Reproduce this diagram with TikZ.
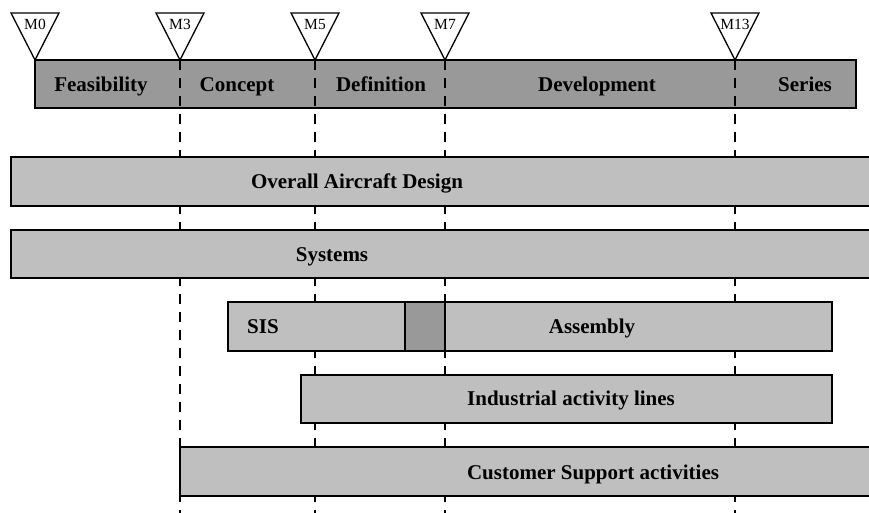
\documentclass[tikz,border=0pt]{standalone}
\usepackage{fontspec}
\setmainfont{Liberation Serif}
\definecolor{phasegray}{gray}{0.6}
\definecolor{bargray}{gray}{0.75}

\begin{document}
\begin{tikzpicture}[x=1pt,y=-1pt,
    milestone/.style={draw=black,line width=1.3pt,fill=white,line join=miter},
    mslabel/.style={inner sep=0pt,anchor=base,font=\fontsize{15.5}{18}\selectfont},
    phase/.style={draw=black,line width=1.5pt,fill=phasegray},
    bar/.style={draw=black,line width=1.5pt,fill=bargray},
    lbl/.style={inner sep=0pt,anchor=base,font=\fontsize{21}{24}\selectfont\bfseries},
    gate/.style={black,line width=1.2pt,dash pattern=on 10pt off 8pt}]
            \clip (0,0) rectangle (869,513);
            % milestone points on the phase bar
            \coordinate (m0) at (35,60);
            \coordinate (m3) at (180,60);
            \coordinate (m5) at (315,60);
            \coordinate (m7) at (445,60);
            \coordinate (m13) at (735,60);
            \coordinate (m3b) at (180,520);
            \coordinate (m5b) at (315,520);
            \coordinate (m7b) at (445,520);
            \coordinate (m13b) at (735,520);
            % phases
            \draw [phase] (35,60) rectangle (856,108);
            \node [lbl] (feas) at (101,91.5) {Feasibility};
            \node [lbl] (conc) at (237,91.5) {Concept};
            \node [lbl] (defi) at (381,91.5) {Definition};
            \node [lbl] (deve) at (597,91.5) {Development};
            \node [lbl] (seri) at (805,91.5) {Series};
            % gates
            \draw [gate] (m3) -- (m3b);
            \draw [gate] (m5) -- (m5b);
            \draw [gate] (m7) -- (m7b);
            \draw [gate] (m13) -- (m13b);
            % milestones
            \draw [milestone] (m0) -- ++(-24,-47) -- ++(48,0) -- cycle;
            \node [mslabel] (m0t) at (35,30) {M0};
            \draw [milestone] (m3) -- ++(-24,-47) -- ++(48,0) -- cycle;
            \node [mslabel] (m3t) at (180,30) {M3};
            \draw [milestone] (m5) -- ++(-24,-47) -- ++(48,0) -- cycle;
            \node [mslabel] (m5t) at (315,30) {M5};
            \draw [milestone] (m7) -- ++(-24,-47) -- ++(48,0) -- cycle;
            \node [mslabel] (m7t) at (445,30) {M7};
            \draw [milestone] (m13) -- ++(-24,-47) -- ++(48,0) -- cycle;
            \node [mslabel] (m13t) at (735,30) {M13};
            % activities
            \draw [bar] (11,157) rectangle (885,206);
            \node [lbl] (oad) at (357,189) {Overall Aircraft Design};
            \draw [bar] (11,230) rectangle (885,278);
            \node [lbl] (sys) at (332,261.5) {Systems};
            \draw [bar] (228,302) rectangle (832,351);
            \draw [phase] (405,302) rectangle (445,351);
            \node [lbl] (sis) at (263,333.5) {SIS};
            \node [lbl] (asm) at (592,333.5) {Assembly};
            \draw [bar] (301,375) rectangle (832,423);
            \node [lbl] (ind) at (571,405.5) {Industrial activity lines};
            \draw [bar] (180,447) rectangle (885,496);
            \node [lbl] (cust) at (593,479.5) {Customer Support activities};
\end{tikzpicture}
\end{document}
